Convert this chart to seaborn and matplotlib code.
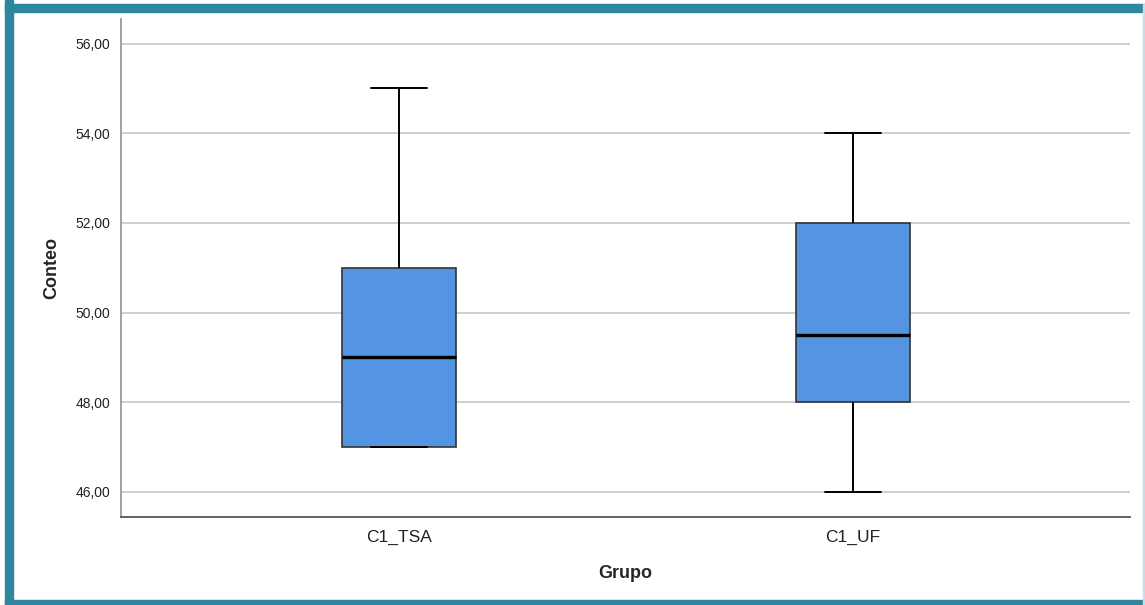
import numpy as np
import pandas as pd
import seaborn as sns
import matplotlib.pyplot as plt
from matplotlib.ticker import FuncFormatter
from matplotlib.patches import Rectangle

# raw counts per group, chosen so the box statistics match the reference
grupos = ["C1_TSA", "C1_UF"]
conteo_tsa = [47, 47, 47, 49, 51, 51, 55]
conteo_uf = [46, 48, 48, 49, 50, 52, 52, 54]
y_ticks = [46, 48, 50, 52, 54, 56]

df = pd.DataFrame({
    "Grupo": [grupos[0]] * len(conteo_tsa) + [grupos[1]] * len(conteo_uf),
    "Conteo": conteo_tsa + conteo_uf,
})

sns.set_style("white")
plt.rcParams['font.family'] = ['Liberation Sans', 'DejaVu Sans']

fig = plt.figure(figsize=(11.45, 6.05), dpi=100)
ax = fig.add_axes([0.1057, 0.1455, 0.8812, 0.8231])

sns.boxplot(data=df, x="Grupo", y="Conteo", order=grupos, ax=ax,
            color="#5495E3", saturation=1, width=0.25, whis=1.5,
            boxprops=dict(edgecolor="#333333", linewidth=1.2),
            whiskerprops=dict(color="black", linewidth=1.4),
            capprops=dict(color="black", linewidth=1.4),
            medianprops=dict(color="black", linewidth=2.4),
            showfliers=False)

ax.set_xlim(-0.612, 1.61)
ax.set_ylim(45.44, 56.55)
ax.set_yticks(y_ticks)
ax.yaxis.set_major_formatter(FuncFormatter(lambda v, p: f"{v:.2f}".replace(".", ",")))
ax.yaxis.grid(True, color="#cccccc", linewidth=1.3)
ax.set_axisbelow(True)
ax.tick_params(axis="y", length=0, pad=8, labelsize=10, labelcolor="#222222")
ax.tick_params(axis="x", length=0, pad=9, labelsize=12.5, labelcolor="#222222")

for s in ["top", "right"]:
    ax.spines[s].set_visible(False)
ax.spines["left"].set_color("#999999")
ax.spines["left"].set_linewidth(1.3)
ax.spines["bottom"].set_color("#555555")
ax.spines["bottom"].set_linewidth(1.3)

ax.set_xlabel("Grupo", fontsize=13, fontweight="bold", labelpad=15)
ax.set_ylabel("Conteo", fontsize=13, fontweight="bold", labelpad=11)

# teal frame around the picture
teal = "#2E869F"
W, H = 1145, 605
fig.patches.append(Rectangle((5 / W, 0), 8 / W, 1, transform=fig.transFigure,
                             color=teal, zorder=10))
fig.patches.append(Rectangle((5 / W, 1 - 12 / H), 1, 8 / H, transform=fig.transFigure,
                             color=teal, zorder=10))
fig.patches.append(Rectangle((5 / W, 0), 1, 5 / H, transform=fig.transFigure,
                             color=teal, zorder=10))
fig.patches.append(Rectangle((1 - 2 / W, 0), 1.5 / W, 1 - 4 / H, transform=fig.transFigure,
                             color="#c9dde6", zorder=10))

fig.savefig("out.png", dpi=100)
